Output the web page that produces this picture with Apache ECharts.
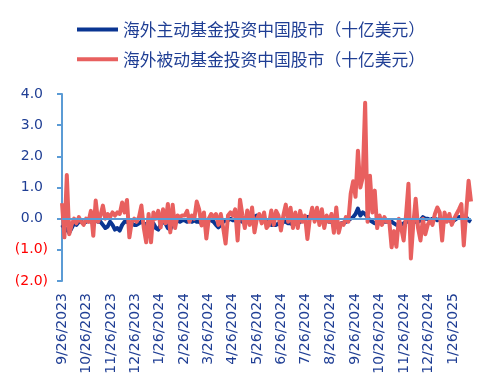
<!DOCTYPE html>
<html>
<head>
<meta charset="utf-8">
<script src="https://cdn.jsdelivr.net/npm/echarts@6/dist/echarts.min.js"></script>
<style>html,body{margin:0;padding:0;background:#fff}#c{width:494px;height:389px}</style>
</head>
<body>
<div id="c"></div>
<script>
// Series names
const seriesNames = ['海外主动基金投资中国股市（十亿美元）', '海外被动基金投资中国股市（十亿美元）'];
// Sampling: first date and step (days) of the readings below
const startDate = '2023-09-26';
const stepDays = 3;
// Active funds (blue), billion USD
const activeValues = [
 -0.2,-0.3,-0.35,-0.45,-0.3,-0.15,-0.2,-0.1,-0.1,-0.15,
 -0.1,-0.05,-0.1,-0.1,-0.05,-0.1,-0.1,-0.2,-0.3,-0.25,
 -0.1,-0.2,-0.35,-0.3,-0.38,-0.2,-0.1,-0.1,-0.15,-0.15,
 -0.2,-0.2,-0.15,-0.1,-0.15,-0.2,-0.1,-0.2,-0.15,-0.3,
 -0.35,-0.2,-0.1,-0.15,-0.3,-0.35,-0.15,-0.1,-0.05,-0.1,
 -0.05,-0.05,-0.1,-0.05,-0.1,-0.05,-0.1,-0.1,-0.15,-0.1,
 -0.1,-0.05,-0.05,-0.1,-0.2,-0.28,-0.2,-0.1,-0.05,-0.05,
 0.0,-0.05,-0.05,-0.1,-0.05,-0.1,-0.05,0.0,0.05,0.1,
 0.05,0.1,0.05,0.0,-0.05,-0.1,-0.15,-0.2,-0.2,-0.2,
 -0.15,-0.2,-0.1,-0.1,-0.15,-0.15,-0.2,-0.15,-0.15,-0.1,
 -0.05,0.0,0.05,0.05,0.1,0.1,0.05,0.0,-0.05,-0.05,
 -0.05,-0.1,-0.1,-0.15,-0.15,-0.2,-0.15,-0.15,-0.1,-0.05,
 0.0,0.05,0.15,0.32,0.1,0.2,0.15,0.05,-0.05,-0.1,
 -0.15,-0.1,-0.15,-0.1,-0.1,-0.1,-0.1,-0.1,-0.15,-0.2,
 -0.2,-0.2,-0.15,-0.1,-0.1,-0.1,-0.1,-0.1,-0.1,-0.05,
 0.05,0.0,0.0,-0.05,0.0,0.0,-0.05,0.0,-0.05,-0.05,
 -0.05,-0.05,-0.1,-0.05,0.0,0.05,0.05,0.0,0.05,-0.05,
 -0.1
];
// Passive funds (red), billion USD
const passiveValues = [
 0.5,-0.6,1.4,-0.5,-0.2,0.0,-0.15,0.05,-0.1,-0.2,
 0.0,-0.1,0.25,-0.55,0.58,-0.1,0.1,0.42,0.0,0.15,
 0.05,0.2,0.1,0.2,0.15,0.52,0.2,0.6,-0.6,-0.1,
 0.0,-0.1,0.05,0.42,-0.3,-0.76,0.15,-0.76,0.2,0.0,
 0.25,-0.28,0.3,-0.15,0.47,-0.44,0.45,-0.3,0.1,0.05,
 0.1,0.1,0.25,-0.1,0.1,0.0,0.55,0.3,-0.22,0.2,
 -0.64,0.0,0.15,0.05,0.15,-0.2,0.15,-0.3,-0.8,0.1,
 0.2,0.1,0.3,-0.7,0.61,0.1,-0.3,0.26,-0.2,0.36,
 -0.44,0.0,0.15,-0.15,0.2,-0.3,-0.2,0.26,-0.2,0.25,
 0.1,-0.38,0.1,0.45,-0.1,0.35,-0.3,0.2,-0.3,0.25,
 -0.1,0.1,-0.65,0.0,0.35,-0.1,0.35,-0.2,0.3,-0.3,
 0.1,-0.1,0.15,-0.45,0.36,-0.45,-0.15,-0.2,0.05,-0.1,
 0.8,1.2,0.7,2.18,1.0,1.32,3.72,-0.1,1.38,0.2,
 0.9,-0.3,0.1,-0.2,0.05,-0.1,-0.05,-0.92,-0.4,-0.9,
 0.0,-0.3,-0.7,0.1,1.12,-1.28,-0.2,0.64,-0.3,-0.7,
 0.0,-0.5,-0.2,-0.05,-0.2,0.15,0.36,0.2,-0.7,0.2,
 -0.1,0.15,-0.2,0.0,0.15,0.3,0.47,-0.86,0.2,1.22,
 0.55
];
// X tick labels (month marks)
const tickLabels = ['9/26/2023','10/26/2023','11/26/2023','12/26/2023','1/26/2024','2/26/2024','3/26/2024','4/26/2024','5/26/2024','6/26/2024','7/26/2024','8/26/2024','9/26/2024','10/26/2024','11/26/2024','12/26/2024','1/26/2025'];
// Y tick values
const yTicks = [-2, -1, 0, 1, 2, 3, 4];

const DAY = 86400000;
function parseMDY(s){ const p = s.split('/').map(Number); return Date.UTC(p[2], p[0]-1, p[1]); }
const t0 = Date.parse(startDate + 'T00:00:00Z');
const dates = activeValues.map((_, i) => t0 + i * stepDays * DAY);
const tickTimes = tickLabels.map(parseMDY);
const xMin = t0, xMax = dates[dates.length - 1];

const blue = '#0A3592', red = '#E8605F', axisBlue = '#5B9BD5', textBlue = '#1F3E94', negRed = '#FF0000';
const chart = echarts.init(document.getElementById('c'), null, {renderer: 'canvas'});
chart.setOption({
  animation: false,
  backgroundColor: '#fff',
  textStyle: {fontFamily: 'DejaVu Sans'},
  legend: {
    orient: 'vertical', left: 77, top: 21, itemGap: 13, padding: 0,
    itemWidth: 41, itemHeight: 4, icon: 'rect',
    textStyle: {fontFamily: 'Noto Sans CJK SC', fontSize: 16.8, color: textBlue},
    data: seriesNames
  },
  grid: {left: 62, right: 23, top: 94, bottom: 108, containLabel: false},
  xAxis: {
    type: 'value', min: xMin, max: xMax, scale: true,
    axisLine: {show: false, onZero: false},
    axisTick: {show: false},
    splitLine: {show: false},
    axisLabel: {
      customValues: tickTimes, rotate: 90, margin: 12,
      fontFamily: 'DejaVu Sans', fontSize: 14, color: textBlue,
      hideOverlap: false, showMinLabel: true, showMaxLabel: true,
      formatter: v => { const d = new Date(v); return (d.getUTCMonth()+1) + '/' + d.getUTCDate() + '/' + d.getUTCFullYear(); }
    }
  },
  yAxis: {
    type: 'value', min: yTicks[0], max: yTicks[yTicks.length-1], interval: 1,
    axisLine: {show: true, lineStyle: {color: axisBlue, width: 2}},
    axisTick: {show: true, inside: false, length: 5, lineStyle: {color: axisBlue, width: 2}},
    splitLine: {show: false},
    axisLabel: {
      margin: 14, fontFamily: 'DejaVu Sans', fontSize: 14,
      formatter: v => v < 0 ? '{n|(' + Math.abs(v).toFixed(1) + ')}' : '{p|' + v.toFixed(1) + '}',
      rich: {
        n: {color: negRed, fontFamily: 'DejaVu Sans', fontSize: 14},
        p: {color: textBlue, fontFamily: 'DejaVu Sans', fontSize: 14, padding: [0, 5, 0, 0]}
      }
    }
  },
  series: [
    {
      name: seriesNames[0], type: 'line', showSymbol: false, symbol: 'none',
      data: dates.map((t, i) => [t, activeValues[i]]),
      lineStyle: {color: blue, width: 4, join: 'round'}, itemStyle: {color: blue},
      markLine: {silent: true, symbol: 'none', label: {show: false},
        lineStyle: {color: axisBlue, width: 2, type: 'solid'}, data: [{yAxis: 0}]},
      z: 2
    },
    {
      name: seriesNames[1], type: 'line', showSymbol: false, symbol: 'none',
      data: dates.map((t, i) => [t, passiveValues[i]]),
      lineStyle: {color: red, width: 4, join: 'round'}, itemStyle: {color: red},
      z: 3
    }
  ]
});
</script>
</body>
</html>
